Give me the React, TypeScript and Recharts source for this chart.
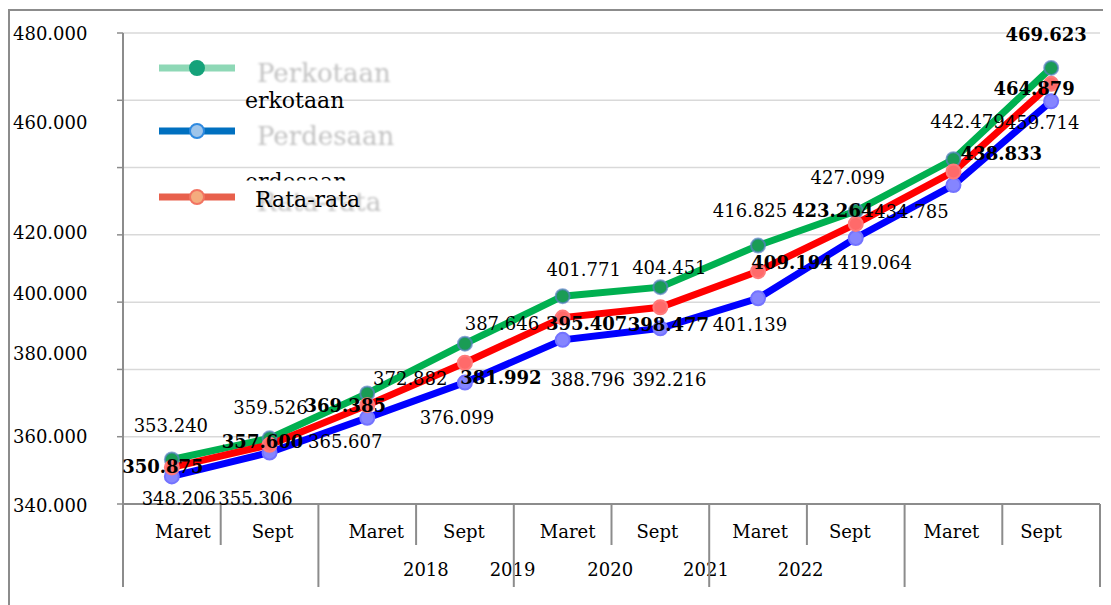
import React from 'react';
import { LineChart, Line, XAxis, YAxis, CartesianGrid, LabelList, Legend } from 'recharts';

// ---------- data ----------
const periods = ['Maret', 'Sept', 'Maret', 'Sept', 'Maret', 'Sept', 'Maret', 'Sept', 'Maret', 'Sept'];
const years = ['2018', '2019', '2020', '2021', '2022'];
const perkotaan = [353240, 359526, 372882, 387646, 401771, 404451, 416825, 427099, 442479, 469623];
const perdesaan = [348206, 355306, 365607, 376099, 388796, 392216, 401139, 419064, 434785, 459714];
const rataRata = [350875, 357600, 369385, 381992, 395407, 398477, 409194, 423264, 438833, 464879];
const yTicks = [340000, 360000, 380000, 400000, 420000, 440000, 460000, 480000];
const seriesNames = ['Perkotaan', 'Perdesaan', 'Rata-rata'];

const data = periods.map((p, i) => ({
  k: i,
  period: p,
  perkotaan: perkotaan[i],
  perdesaan: perdesaan[i],
  rataRata: rataRata[i],
}));

// ---------- layout ----------
const CHART_W = 1103;
const CHART_H = 597;
const MARGIN = { top: 25, right: 11, left: 5, bottom: 18 };
const Y_W = 110;
const X_H = 83;
const PLOT_LEFT = MARGIN.left + Y_W;
const PLOT_W = CHART_W - PLOT_LEFT - MARGIN.right;
const PLOT_BOTTOM = CHART_H - MARGIN.bottom - X_H;
const BAND = PLOT_W / periods.length;

const FONT = "'DejaVu Serif', serif";
const AXIS = '#8c8c8c';
const GRID = '#d9d9d9';

// label-position quirks of the original picture
const Y_LABEL_DY: Record<number, number> = { 340000: 1, 360000: 0, 380000: -16, 400000: -9, 420000: -2, 440000: 0, 460000: 22, 480000: 0 };
const Y_LABEL_HIDDEN = [440000];
const TICK_DX = [11, 3, 9, -1, 5, -3, 2, -6, -2, -10];
const YEAR_SHIFT = [254, 243, 243, 241, 238];

const OFF_KOTA: [number, number][] = [[-1, -34], [1, -31], [43, -15], [37, -20], [21, -27], [9, -20], [-8, -35], [-8, -33], [14, -38], [-5, -33]];
const OFF_DESA: [number, number][] = [[7, 22], [-14, 46], [-22, 24], [-8, 35], [25, 40], [9, 51], [-8, 26], [19, 24], [-42, 26], [-9, 21]];
const OFF_RATA: [number, number][] = [[-9, -1], [-7, -3], [-22, 0], [36, 15], [24, 6], [8, 17], [34, -9], [-23, -13], [48, -18], [-17, 5]];

const fmt = (v: number) => Math.round(v).toString().replace(/\B(?=(\d{3})+(?!\d))/g, '.');

const YTick = (props: any) => {
  const { y, payload } = props;
  const v = payload.value;
  if (Y_LABEL_HIDDEN.includes(v)) return null;
  return (
    <text x={5} y={y + (Y_LABEL_DY[v] || 0)} dominantBaseline="central" textAnchor="start"
      fontFamily={FONT} fontSize={18} fill="#000">{fmt(v)}</text>
  );
};

const XTick = (props: any) => {
  const { x, payload } = props;
  const i = payload?.index ?? props.index ?? 0;
  const left = x - BAND / 2;
  const right = x + BAND / 2;
  const longLeft = i % 2 === 0;
  return (
    <g>
      <line x1={left} x2={left} y1={PLOT_BOTTOM} y2={PLOT_BOTTOM + (longLeft ? 83 : 41)} stroke={AXIS} strokeWidth={2} />
      {i === periods.length - 1 && (
        <line x1={right} x2={right} y1={PLOT_BOTTOM} y2={PLOT_BOTTOM + 83} stroke={AXIS} strokeWidth={2} />
      )}
      <text x={x + TICK_DX[i]} y={PLOT_BOTTOM + 27} textAnchor="middle" dominantBaseline="central"
        fontFamily={FONT} fontSize={18} fill="#000">{periods[i]}</text>
      {i < years.length && (
        <text x={x + YEAR_SHIFT[i]} y={PLOT_BOTTOM + 65} textAnchor="middle" dominantBaseline="central"
          fontFamily={FONT} fontSize={18} fill="#000">{years[i]}</text>
      )}
    </g>
  );
};

const makeLabel = (offsets: [number, number][], isBold: (i: number) => boolean) => (props: any) => {
  const vb = props.viewBox || {};
  const x = props.x ?? vb.x;
  const y = props.y ?? vb.y;
  const index = props.index ?? 0;
  const [dx, dy] = offsets[index] || [0, 0];
  return (
    <text x={x + dx} y={y + dy} textAnchor="middle" dominantBaseline="central" fontFamily={FONT}
      fontSize={18} fontWeight={isBold(index) ? 'bold' : 'normal'} fill="#000">{fmt(props.value)}</text>
  );
};

const legendStyle = [
  { line: '#8ed8b6', dotFill: '#15a27a', dotStroke: '#15a27a', y: 60 },
  { line: '#0070c0', dotFill: '#9fc5ea', dotStroke: '#2f8ae0', y: 123 },
  { line: '#e8604c', dotFill: '#f4ac7e', dotStroke: '#f27462', y: 189 },
];

const renderLegend = () => (
  <svg width={CHART_W} height={CHART_H} style={{ display: 'block', overflow: 'visible' }}>
    <defs>
      <filter id="softblur" x="-5%" y="-20%" width="110%" height="140%">
        <feGaussianBlur stdDeviation="0.8" />
      </filter>
      <clipPath id="clipErdesaan">
        <rect x={0} y={0} width={CHART_W} height={172.5} />
      </clipPath>
    </defs>
    {seriesNames.map((name, i) => {
      const s = legendStyle[i];
      return (
        <g key={name}>
          <line x1={151} x2={227} y1={s.y} y2={s.y} stroke={s.line} strokeWidth={7} />
          <circle cx={189} cy={s.y} r={7} fill={s.dotFill} stroke={s.dotStroke} strokeWidth={2} />
          <text x={249} y={s.y + 14} fontFamily={FONT} fontSize={26} fill="#c2c2c2"
            filter="url(#softblur)">{name}</text>
        </g>
      );
    })}
    <text x={237} y={100} fontFamily={FONT} fontSize={22} fill="#000">{seriesNames[0].slice(1)}</text>
    <text x={237} y={180.5} fontFamily={FONT} fontSize={22} fill="#000" clipPath="url(#clipErdesaan)">{seriesNames[1].slice(1)}</text>
    <text x={247} y={198.5} fontFamily={FONT} fontSize={22} fill="#000">{seriesNames[2]}</text>
  </svg>
);

export default function App() {
  return (
    <div style={{ position: 'relative', width: CHART_W, height: CHART_H, overflow: 'hidden' }}>
      <div style={{ position: 'absolute', left: 0, top: 1, width: CHART_W + 100, height: CHART_H + 100,
        borderTop: `2px solid ${AXIS}`, borderLeft: `2px solid ${AXIS}`, pointerEvents: 'none' }} />
      <LineChart width={CHART_W} height={CHART_H} data={data} margin={MARGIN}>
        <CartesianGrid horizontal vertical={false} stroke={GRID} strokeWidth={1.5} />
        <XAxis dataKey="k" type="category" interval={0} tickLine={false} height={X_H}
          padding={{ left: BAND / 2, right: BAND / 2 }}
          axisLine={{ stroke: AXIS, strokeWidth: 2 }} tick={<XTick />} />
        <YAxis type="number" domain={[340000, 480000]} ticks={yTicks} interval={0} width={Y_W}
          tickSize={6} tickLine={{ stroke: AXIS, strokeWidth: 1.5 }} axisLine={{ stroke: AXIS, strokeWidth: 2 }}
          tick={<YTick />} allowDataOverflow />
        <Legend layout="vertical" align="center" verticalAlign="middle" content={renderLegend}
          wrapperStyle={{ position: 'absolute', left: 0, top: 0, width: CHART_W, height: CHART_H, pointerEvents: 'none' }} />
        <Line dataKey="perkotaan" name={seriesNames[0]} stroke="#00b050" strokeWidth={7} isAnimationActive={false}
          dot={{ r: 7, fill: '#1a9c55', stroke: '#5a80c4', strokeWidth: 2, strokeOpacity: 0.7 }} activeDot={false} />
        <Line dataKey="perdesaan" name={seriesNames[1]} stroke="#0000ff" strokeWidth={7} isAnimationActive={false}
          dot={{ r: 7, fill: '#8585ff', stroke: '#7373ff', strokeWidth: 2 }} activeDot={false} />
        <Line dataKey="rataRata" name={seriesNames[2]} stroke="#ff0000" strokeWidth={7} isAnimationActive={false}
          dot={{ r: 7, fill: '#ff6a6a', stroke: '#ff7a7a', strokeWidth: 2 }} activeDot={false} />
        <Line dataKey="perkotaan" stroke="none" dot={false} activeDot={false} legendType="none" isAnimationActive={false}>
          <LabelList dataKey="perkotaan" content={makeLabel(OFF_KOTA, (i) => i === perkotaan.length - 1)} />
        </Line>
        <Line dataKey="perdesaan" stroke="none" dot={false} activeDot={false} legendType="none" isAnimationActive={false}>
          <LabelList dataKey="perdesaan" content={makeLabel(OFF_DESA, () => false)} />
        </Line>
        <Line dataKey="rataRata" stroke="none" dot={false} activeDot={false} legendType="none" isAnimationActive={false}>
          <LabelList dataKey="rataRata" content={makeLabel(OFF_RATA, () => true)} />
        </Line>
      </LineChart>
    </div>
  );
}
